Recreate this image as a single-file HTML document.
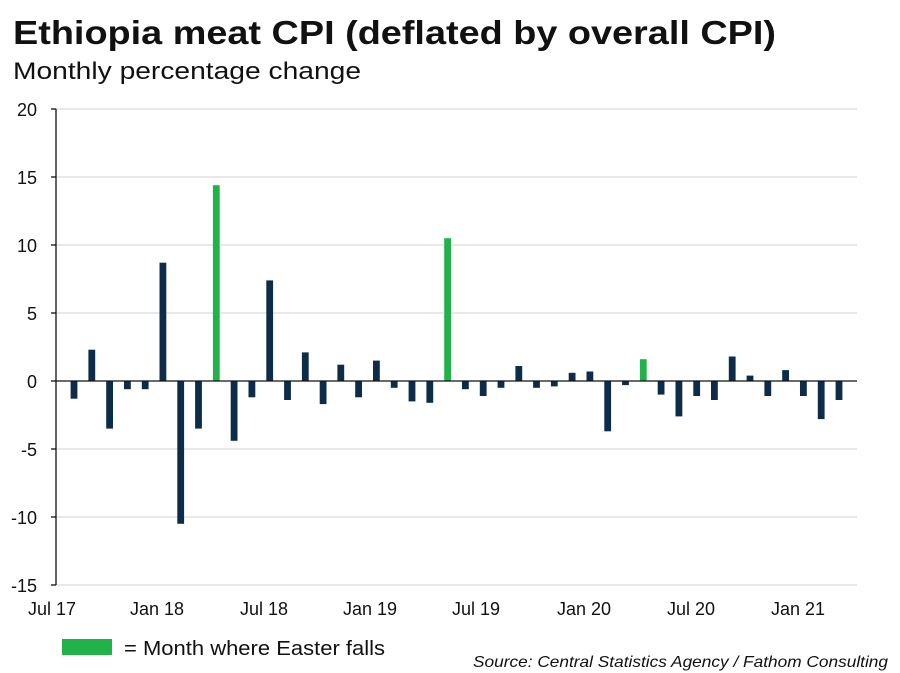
<!DOCTYPE html>
<html><head><meta charset="utf-8"><style>
html,body{margin:0;padding:0;background:#fff;}
svg{display:block;font-family:"Liberation Sans",Arial,sans-serif;}
</style></head><body>
<svg width="900" height="673" viewBox="0 0 900 673" xmlns="http://www.w3.org/2000/svg">
<rect width="900" height="673" fill="#fff"/>
<text x="13" y="44" font-size="33" font-weight="bold" fill="#111" textLength="763" lengthAdjust="spacingAndGlyphs">Ethiopia meat CPI (deflated by overall CPI)</text>
<text x="13" y="79" font-size="24" fill="#111" textLength="348" lengthAdjust="spacingAndGlyphs">Monthly percentage change</text>
<g stroke="#d9d9d9" stroke-width="1.3">
<line x1="56" x2="857" y1="109" y2="109"/>
<line x1="56" x2="857" y1="177" y2="177"/>
<line x1="56" x2="857" y1="245" y2="245"/>
<line x1="56" x2="857" y1="313" y2="313"/>
<line x1="56" x2="857" y1="449" y2="449"/>
<line x1="56" x2="857" y1="517" y2="517"/>
<line x1="56" x2="857" y1="585" y2="585"/>
</g>
<g font-size="18" fill="#111" text-anchor="end">
<text x="37" y="116">20</text>
<text x="37" y="184">15</text>
<text x="37" y="252">10</text>
<text x="37" y="320">5</text>
<text x="37" y="388">0</text>
<text x="37" y="456">-5</text>
<text x="37" y="524">-10</text>
<text x="37" y="592">-15</text>
</g>
<g id="bars"></g>
<line x1="56" x2="857" y1="381" y2="381" stroke="#111" stroke-width="1.3"/>
<line x1="56" x2="56" y1="109" y2="585" stroke="#111" stroke-width="1.3"/>
<g stroke="#111" stroke-width="1.3">
<line x1="51" x2="56" y1="109" y2="109"/><line x1="51" x2="56" y1="177" y2="177"/>
<line x1="51" x2="56" y1="245" y2="245"/><line x1="51" x2="56" y1="313" y2="313"/>
<line x1="51" x2="56" y1="381" y2="381"/><line x1="51" x2="56" y1="449" y2="449"/>
<line x1="51" x2="56" y1="517" y2="517"/><line x1="51" x2="56" y1="585" y2="585"/>
</g>
<g font-size="18" fill="#111" text-anchor="middle">
<text x="52" y="615">Jul 17</text>
<text x="157" y="615">Jan 18</text>
<text x="264" y="615">Jul 18</text>
<text x="370" y="615">Jan 19</text>
<text x="476" y="615">Jul 19</text>
<text x="584" y="615">Jan 20</text>
<text x="691" y="615">Jul 20</text>
<text x="798" y="615">Jan 21</text>
</g>
<rect x="62" y="639" width="50" height="16" fill="#21b34a"/>
<text x="124" y="655" font-size="20" fill="#111" textLength="261" lengthAdjust="spacingAndGlyphs">= Month where Easter falls</text>
<text x="888" y="667" font-size="16" font-style="italic" fill="#111" text-anchor="end" textLength="415" lengthAdjust="spacingAndGlyphs">Source: Central Statistics Agency / Fathom Consulting</text>
<script>
var v=[-1.3,2.3,-3.5,-0.6,-0.6,8.7,-10.5,-3.5,14.4,-4.4,-1.2,7.4,-1.4,2.1,-1.7,1.2,-1.2,1.5,-0.5,-1.5,-1.6,10.5,-0.6,-1.1,-0.5,1.1,-0.5,-0.4,0.6,0.7,-3.7,-0.3,1.6,-1.0,-2.6,-1.1,-1.4,1.8,0.4,-1.1,0.8,-1.1,-2.8,-1.4];
var g=document.getElementById('bars'),ns='http://www.w3.org/2000/svg';
v.forEach(function(d,i){var x=74+i*17.79,h=Math.abs(d)*13.6,r=document.createElementNS(ns,'rect');
r.setAttribute('x',(x-3.4).toFixed(1));r.setAttribute('width','6.8');
r.setAttribute('y',(d>0?381-h:381).toFixed(1));r.setAttribute('height',h.toFixed(1));
r.setAttribute('fill',(i==8||i==21||i==32)?'#21b34a':'#0d2c4a');g.appendChild(r);});
</script>
</svg>
</body></html>
